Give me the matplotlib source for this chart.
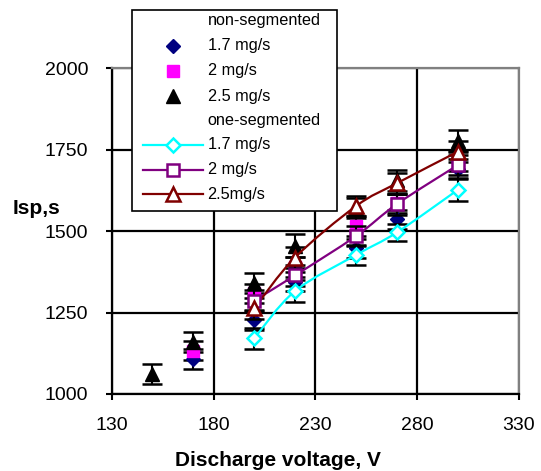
import matplotlib
matplotlib.use("Agg")
import matplotlib.pyplot as plt
from matplotlib.lines import Line2D
from matplotlib.patches import Rectangle, PathPatch
from matplotlib.path import Path

plt.rcParams['font.family'] = ['Liberation Sans', 'DejaVu Sans']

# ---- data: non-segmented thruster ----
ns_v_17 = [170, 200, 220, 250, 270, 300]
ns_isp_17 = [1107, 1227, 1345, 1447, 1536, 1690]
ns_err_17 = [30, 30, 30, 30, 30, 30]

ns_v_2 = [170, 200, 220, 250, 270, 300]
ns_isp_2 = [1133, 1309, 1390, 1516, 1585, 1715]
ns_err_2 = [30, 30, 30, 30, 30, 30]

ns_v_25 = [150, 170, 200, 220, 250, 270, 300]
ns_isp_25 = [1061, 1160, 1340, 1455, 1570, 1656, 1778]
ns_err_25 = [31, 30, 31, 35, 31, 32, 34]

# ---- data: one-segmented thruster ----
os_v = [200, 220, 250, 270, 300]
os_isp_17 = [1171, 1316, 1427, 1496, 1627]
os_err_17 = [32, 35, 31, 27, 35]
os_isp_2 = [1287, 1364, 1485, 1583, 1703]
os_err_2 = [32, 32, 32, 32, 32]
os_isp_25 = [1263, 1419, 1577, 1647, 1744]
os_err_25 = [32, 32, 32, 32, 32]

x_ticks = [130, 180, 230, 280, 330]
y_ticks = [1000, 1250, 1500, 1750, 2000]

legend_labels = ["non-segmented", "1.7 mg/s", "2 mg/s", "2.5 mg/s",
                 "one-segmented", "1.7 mg/s", "2 mg/s", "2.5mg/s"]

W, H = 541, 471
fig = plt.figure(figsize=(W / 100, H / 100), dpi=100)

def fx(x):
    return x / W

def fy(y):
    return 1 - y / H

L, R, T, B = 111.7, 519.0, 68.3, 394.0
ax = fig.add_axes([fx(L), fy(B), (R - L) / W, (B - T) / H])
ax.set_xlim(130, 330)
ax.set_ylim(1000, 2000)
ax.set_xticks(x_ticks)
ax.set_yticks(y_ticks)
ax.grid(True, color='black', lw=1.6)
ax.set_axisbelow(True)
for s in ['left', 'bottom']:
    ax.spines[s].set_color('black')
    ax.spines[s].set_linewidth(1.6)
for s in ['top', 'right']:
    ax.spines[s].set_color('#808080')
    ax.spines[s].set_linewidth(1.6)
ax.tick_params(axis='both', direction='out', length=4.5, width=1.5, labelsize=14)
ax.tick_params(axis='y', pad=12.5)
ax.tick_params(axis='x', pad=12)


def smooth_path(xs, ys):
    pts = list(zip(xs, ys))
    n = len(pts)
    verts = [pts[0]]
    codes = [Path.MOVETO]
    for i in range(n - 1):
        p0 = pts[i - 1] if i > 0 else pts[i]
        p1 = pts[i]
        p2 = pts[i + 1]
        p3 = pts[i + 2] if i + 2 < n else pts[i + 1]
        c1 = (p1[0] + (p2[0] - p0[0]) / 6, p1[1] + (p2[1] - p0[1]) / 6)
        c2 = (p2[0] - (p3[0] - p1[0]) / 6, p2[1] - (p3[1] - p1[1]) / 6)
        verts += [c1, c2, p2]
        codes += [Path.CURVE4] * 3
    return Path(verts, codes)


ebkw = dict(ecolor='black', elinewidth=1.5, capsize=7, capthick=1.8, linestyle='none')

# non-segmented (filled markers)
ns_styles = [
    (ns_v_17, ns_isp_17, ns_err_17, dict(marker='D', ms=7.5, mfc='#000080', mec='#000080')),
    (ns_v_2, ns_isp_2, ns_err_2, dict(marker='s', ms=8.5, mfc='#FF00FF', mec='#FF00FF')),
    (ns_v_25, ns_isp_25, ns_err_25, dict(marker='^', ms=10.5, mfc='black', mec='black')),
]
for xs, ys, es, st in ns_styles:
    ax.errorbar(xs, ys, yerr=es, zorder=3, **ebkw, **st)

# one-segmented (open markers with smoothed lines)
os_styles = [
    (os_isp_17, os_err_17, '#00FFFF', 'D', 7.5),
    (os_isp_2, os_err_2, '#800080', 's', 9),
    (os_isp_25, os_err_25, '#800000', '^', 10.5),
]
for ys, es, col, mk, ms in os_styles:
    ax.errorbar(os_v, ys, yerr=es, zorder=4, **ebkw)
    ax.add_patch(PathPatch(smooth_path(os_v, ys), fill=False, edgecolor=col,
                           lw=1.6, zorder=5))
    ax.plot(os_v, ys, linestyle='none', marker=mk, ms=ms, mfc='white',
            mec=col, mew=1.8, zorder=6)

# ---- legend box (manual) ----
fig.add_artist(Rectangle((fx(132), fy(210.7)), (337 - 132) / W, (210.7 - 10) / H,
                         transform=fig.transFigure, facecolor='white',
                         edgecolor='black', lw=1.2, zorder=10))
row_y = [20.7, 45.5, 71.0, 96.0, 120.5, 144.5, 169.5, 194.0]
text_x = 207.5
mk_x = 172.7
handles = [
    None,
    dict(marker='D', ms=7.5, mfc='#000080', mec='#000080', line=None),
    dict(marker='s', ms=8.5, mfc='#FF00FF', mec='#FF00FF', line=None),
    dict(marker='^', ms=10.5, mfc='black', mec='black', line=None),
    None,
    dict(marker='D', ms=7.5, mfc='white', mec='#00FFFF', line='#00FFFF'),
    dict(marker='s', ms=8.5, mfc='white', mec='#800080', line='#800080'),
    dict(marker='^', ms=10, mfc='white', mec='#800000', line='#800000'),
]
for lab, yy, h in zip(legend_labels, row_y, handles):
    fig.text(fx(text_x), fy(yy), lab, fontsize=11.7, ha='left', va='center', zorder=12)
    if h is None:
        continue
    if h['line'] is not None:
        fig.add_artist(Line2D([fx(142.7), fx(202.7)], [fy(yy), fy(yy)],
                              transform=fig.transFigure, color=h['line'], lw=1.6, zorder=11))
        mew = 1.8
    else:
        mew = 1.0
    fig.add_artist(Line2D([fx(mk_x)], [fy(yy)], transform=fig.transFigure,
                          linestyle='none', marker=h['marker'], ms=h['ms'],
                          mfc=h['mfc'], mec=h['mec'], mew=mew, zorder=12))

# axis titles
fig.text(fx(277.5), fy(460.5), "Discharge voltage, V", fontsize=15, weight='bold',
         ha='center', va='center')
fig.text(fx(13), fy(209), "Isp,s", fontsize=15, weight='bold', ha='left', va='center')

fig.savefig("out.png", dpi=100)
